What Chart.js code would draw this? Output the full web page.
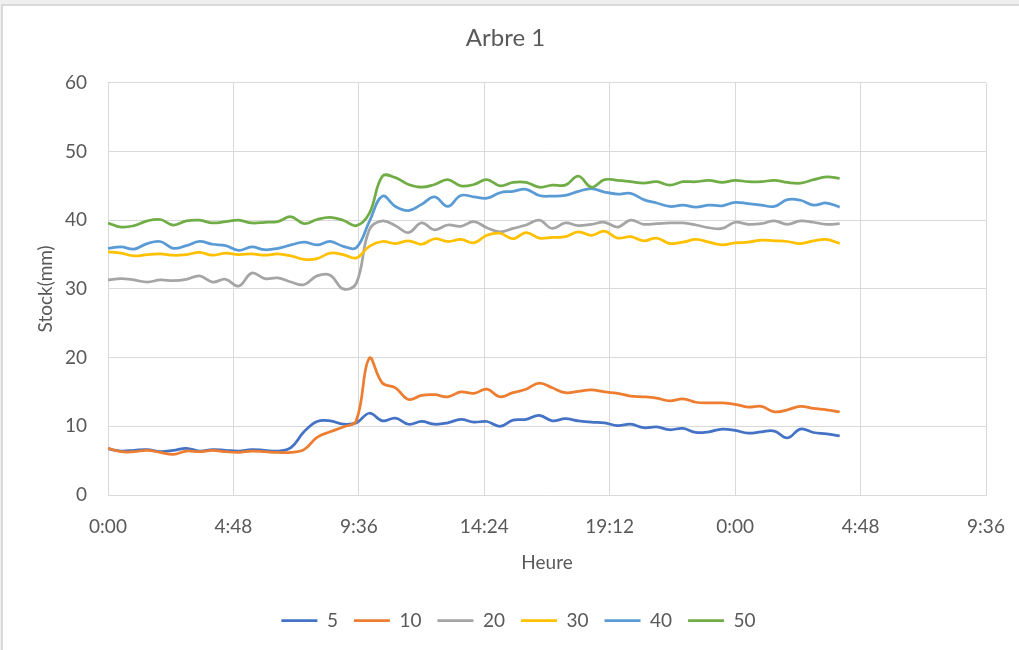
<!DOCTYPE html>
<html lang="fr">
<head>
<meta charset="utf-8">
<title>Arbre 1</title>
<script src="https://cdn.jsdelivr.net/npm/chart.js@4.4.1/dist/chart.umd.min.js"></script>
<style>
    body { margin: 0; background: #efefef; }
    .cadre {
        position: absolute; left: 1px; top: 4px; width: 1100px; height: 700px;
        background: #fff; border-left: 2px solid #d9d9d9; border-top: 2px solid #d9d9d9;
    }
    #graphique { position: absolute; left: 0; top: 0; }
</style>
</head>
<body>
<div class="cadre"></div>
<canvas id="graphique" width="1019" height="650"></canvas>
<script>
// heures depuis le début de la mesure
const heures = [0, 0.5, 1, 1.5, 2, 2.5, 3, 3.5, 4, 4.5, 5, 5.5, 6, 6.5, 7, 7.5, 8, 8.5, 9, 9.5,
    10, 10.5, 11, 11.5, 12, 12.5, 13, 13.5, 14, 14.5, 15, 15.5, 16, 16.5, 17, 17.5, 18, 18.5, 19, 19.5,
    20, 20.5, 21, 21.5, 22, 22.5, 23, 23.5, 24, 24.5, 25, 25.5, 26, 26.5, 27, 27.5, 28]

const stock5 = [6.7, 6.4, 6.5, 6.6, 6.3, 6.5, 6.8, 6.4, 6.6, 6.5, 6.4, 6.6, 6.5, 6.4, 6.9, 9.2, 10.7, 10.8, 10.3, 10.5,
    11.9, 10.8, 11.2, 10.3, 10.7, 10.3, 10.5, 11.0, 10.6, 10.7, 10.0, 10.9, 11.0, 11.6, 10.8, 11.1, 10.8, 10.6, 10.5, 10.1,
    10.3, 9.8, 9.9, 9.5, 9.7, 9.1, 9.2, 9.6, 9.4, 9.0, 9.2, 9.3, 8.3, 9.6, 9.1, 8.9, 8.6]
const stock10 = [6.8, 6.3, 6.3, 6.5, 6.2, 5.9, 6.4, 6.3, 6.5, 6.3, 6.2, 6.4, 6.3, 6.2, 6.2, 6.6, 8.4, 9.2, 9.9, 10.8,
    19.9, 16.3, 15.6, 13.9, 14.5, 14.6, 14.3, 15.0, 14.8, 15.4, 14.3, 14.9, 15.4, 16.3, 15.6, 14.9, 15.1, 15.3, 15.0, 14.8,
    14.4, 14.3, 14.1, 13.7, 14.0, 13.5, 13.4, 13.4, 13.2, 12.8, 12.9, 12.1, 12.4, 12.9, 12.6, 12.4, 12.1]
const stock20 = [31.3, 31.5, 31.3, 31.0, 31.3, 31.2, 31.4, 31.9, 31.0, 31.4, 30.4, 32.3, 31.5, 31.6, 31.0, 30.6, 31.9, 32.0, 30.0, 30.8,
    38.6, 39.9, 39.2, 38.2, 39.6, 38.6, 39.3, 39.1, 39.8, 38.9, 38.3, 38.8, 39.3, 40.0, 38.8, 39.6, 39.2, 39.4, 39.7, 39.0,
    40.0, 39.4, 39.5, 39.6, 39.6, 39.3, 38.9, 38.8, 39.7, 39.4, 39.5, 39.9, 39.4, 39.9, 39.7, 39.4, 39.5]
const stock30 = [35.4, 35.2, 34.8, 35.0, 35.1, 34.9, 35.0, 35.3, 34.9, 35.2, 35.0, 35.1, 34.9, 35.1, 34.8, 34.3, 34.4, 35.2, 35.0, 34.5,
    36.2, 36.9, 36.6, 37.0, 36.5, 37.3, 36.9, 37.2, 36.7, 37.8, 38.1, 37.3, 38.2, 37.4, 37.5, 37.6, 38.3, 37.8, 38.4, 37.4,
    37.6, 37.0, 37.4, 36.6, 36.8, 37.2, 36.8, 36.4, 36.7, 36.8, 37.1, 37.0, 36.9, 36.6, 37.0, 37.2, 36.6]
const stock40 = [35.9, 36.1, 35.8, 36.6, 36.9, 35.9, 36.3, 36.9, 36.5, 36.3, 35.6, 36.1, 35.7, 35.9, 36.4, 36.8, 36.4, 36.9, 36.2, 36.0,
    39.8, 43.5, 42.0, 41.4, 42.3, 43.4, 42.0, 43.6, 43.4, 43.2, 44.0, 44.2, 44.5, 43.6, 43.5, 43.6, 44.2, 44.6, 44.1, 43.8,
    43.9, 43.0, 42.5, 42.0, 42.2, 41.9, 42.2, 42.1, 42.6, 42.4, 42.2, 42.0, 43.0, 42.9, 42.2, 42.5, 41.9]
const stock50 = [39.6, 39.0, 39.2, 39.9, 40.1, 39.3, 39.9, 40.0, 39.6, 39.8, 40.0, 39.6, 39.7, 39.8, 40.5, 39.5, 40.1, 40.4, 40.0, 39.2,
    41.0, 46.4, 46.2, 45.2, 44.8, 45.2, 45.9, 45.0, 45.2, 45.9, 45.0, 45.5, 45.5, 44.8, 45.1, 45.1, 46.4, 44.8, 45.9, 45.8,
    45.6, 45.4, 45.6, 45.1, 45.6, 45.6, 45.8, 45.5, 45.8, 45.6, 45.6, 45.8, 45.5, 45.4, 45.9, 46.3, 46.1]

// graduations de l'axe des heures
const heureTicks = [0, 4.8, 9.6, 14.4, 19.2, 24, 28.8, 33.6]
const heureLabels = ['0:00', '4:48', '9:36', '14:24', '19:12', '0:00', '4:48', '9:36']

const series = [
    { nom: '5', valeurs: stock5, couleur: '#4472C4' },
    { nom: '10', valeurs: stock10, couleur: '#ED7D31' },
    { nom: '20', valeurs: stock20, couleur: '#A5A5A5' },
    { nom: '30', valeurs: stock30, couleur: '#FFC000' },
    { nom: '40', valeurs: stock40, couleur: '#5B9BD5' },
    { nom: '50', valeurs: stock50, couleur: '#70AD47' }
]

const texte = '#595959'
const grille = '#d9d9d9'

// la légende d'Excel est un peu décalée vers la droite
const decalerLegende = {
    id: 'decalerLegende',
    afterLayout(chart) {
        chart.legend.left += 13
        chart.legend.right += 13
    }
}

const ctx = document.getElementById('graphique').getContext('2d')

new Chart(ctx, {
    type: 'line',
    data: {
        datasets: series.map((s, i) => ({
            label: s.nom,
            data: s.valeurs.map((v, j) => ({ x: heures[j], y: v })),
            borderColor: s.couleur,
            backgroundColor: s.couleur,
            borderWidth: 2.75,
            pointRadius: 0,
            tension: 0.4,
            order: series.length - i // la dernière série passe devant
        }))
    },
    options: {
        responsive: false,
        animation: false,
        layout: {
            padding: { left: 25, right: 33, top: 0, bottom: 10 }
        },
        scales: {
            x: {
                type: 'linear',
                min: 0,
                max: 33.6,
                afterBuildTicks: function (scale) {
                    scale.ticks = heureTicks.map(v => ({ value: v }))
                },
                afterFit: function (scale) {
                    scale.height = 100
                    scale.paddingLeft = 0
                    scale.paddingRight = 0
                },
                ticks: {
                    color: texte,
                    padding: 20,
                    maxRotation: 0,
                    font: { family: 'Lato', size: 19 },
                    callback: function (value, index) {
                        return heureLabels[index]
                    }
                },
                grid: { color: grille, drawTicks: false },
                border: { color: grille },
                title: {
                    display: true,
                    text: 'Heure',
                    color: texte,
                    font: { family: 'Lato', size: 19 },
                    padding: { top: 0, bottom: 21 }
                }
            },
            y: {
                min: 0,
                max: 60,
                afterFit: function (scale) {
                    scale.width = 83
                },
                ticks: {
                    stepSize: 10,
                    color: texte,
                    padding: 21,
                    font: { family: 'Lato', size: 19 }
                },
                grid: { color: grille, drawTicks: false },
                border: { color: grille },
                title: {
                    display: true,
                    text: 'Stock(mm)',
                    color: texte,
                    font: { family: 'Lato', size: 19 },
                    padding: { top: 9, bottom: 0 }
                }
            }
        },
        plugins: {
            title: {
                display: true,
                text: 'Arbre 1',
                color: texte,
                font: { family: 'Lato', size: 24, weight: 'normal' },
                padding: { top: 24, bottom: 30 }
            },
            legend: {
                position: 'bottom',
                labels: {
                    color: texte,
                    font: { family: 'Lato', size: 19 },
                    usePointStyle: true,
                    pointStyle: 'line',
                    pointStyleWidth: 36,
                    padding: 16,
                    sort: (a, b) => a.datasetIndex - b.datasetIndex
                }
            },
            tooltip: { enabled: false }
        }
    },
    plugins: [decalerLegende]
})
</script>
</body>
</html>
